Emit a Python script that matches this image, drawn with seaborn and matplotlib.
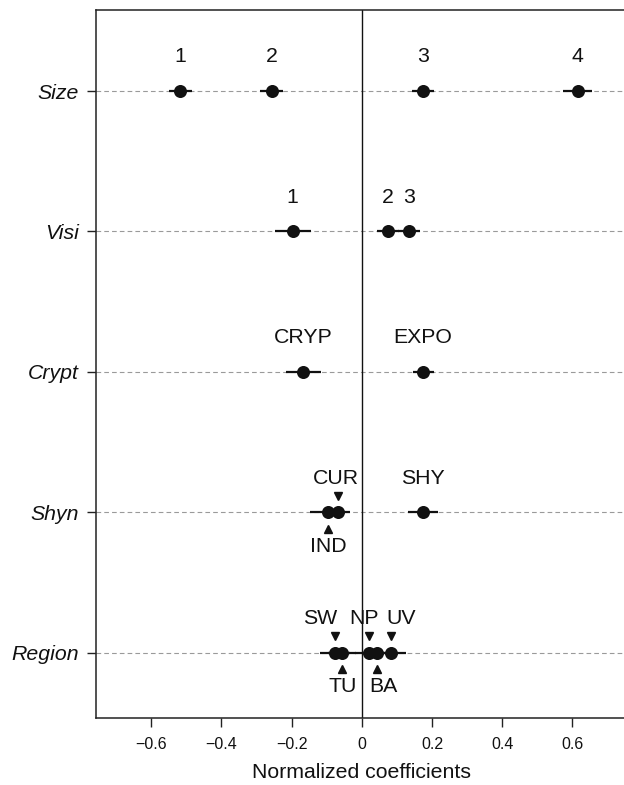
import matplotlib
matplotlib.use("Agg")
import matplotlib.pyplot as plt
import matplotlib.transforms as mtransforms
import numpy as np
import pandas as pd
import seaborn as sns

# Model terms (rows, top to bottom)
variables = ["Size", "Visi", "Crypt", "Shyn", "Region"]

# Levels of each term, normalized coefficients and half-width of the interval
size_levels = ["1", "2", "3", "4"]
size_coef = [-0.517, -0.257, 0.174, 0.615]
size_half = [0.032, 0.032, 0.032, 0.041]

visi_levels = ["1", "2", "3"]
visi_coef = [-0.197, 0.074, 0.135]
visi_half = [0.051, 0.031, 0.031]

crypt_levels = ["CRYP", "EXPO"]
crypt_coef = [-0.166, 0.175]
crypt_half = [0.051, 0.030]

shyn_levels = ["IND", "CUR", "SHY"]
shyn_coef = [-0.097, -0.067, 0.174]
shyn_half = [0.050, 0.033, 0.043]

region_levels = ["SW", "TU", "NP", "BA", "UV"]
region_coef = [-0.076, -0.055, 0.022, 0.044, 0.083]
region_half = [0.043, 0.040, 0.040, 0.040, 0.043]

x_ticks = [-0.6, -0.4, -0.2, 0, 0.2, 0.4, 0.6]
x_tick_labels = ["\u22120.6", "\u22120.4", "\u22120.2", "0", "0.2", "0.4", "0.6"]
x_label = "Normalized coefficients"

# Label placement: side ('above' / 'below'), horizontal nudge in points, pointer arrow
label_style = {
    "CUR": ("above", -2.0, True),
    "IND": ("below", 0.5, True),
    "SW": ("above", -10.8, True),
    "NP": ("above", -3.6, True),
    "UV": ("above", 7.2, True),
    "TU": ("below", 0.5, True),
    "BA": ("below", 4.3, True),
}

groups = [
    (size_levels, size_coef, size_half),
    (visi_levels, visi_coef, visi_half),
    (crypt_levels, crypt_coef, crypt_half),
    (shyn_levels, shyn_coef, shyn_half),
    (region_levels, region_coef, region_half),
]

records = []
for row, (var, (levels, coefs, halves)) in enumerate(zip(variables, groups)):
    for lev, c, h in zip(levels, coefs, halves):
        records.append({"variable": var, "row": row, "level": lev,
                        "coef": c, "lo": c - h, "hi": c + h})
df = pd.DataFrame(records)

sns.set_theme(style="white")
plt.rcParams["font.family"] = ["Liberation Sans", "DejaVu Sans"]

fig = plt.figure(figsize=(6.24, 7.85), dpi=100)
ax = fig.add_axes([95.7 / 624, 67 / 785, (627.8 - 95.7) / 624, (718 - 10) / 785])

xlim = (-0.758, 0.758)
ax.set_xlim(*xlim)
ax.set_ylim(4.466, -0.577)

# dashed reference line through each term
for row in range(len(variables)):
    ax.plot(xlim, [row, row], color="#9a9a9a", lw=0.8,
            dashes=(4.2, 2.8), zorder=1, solid_capstyle="butt")

# zero line
ax.axvline(0, color="#111111", lw=1.0, zorder=2)

# intervals
ax.hlines(df["row"], df["lo"], df["hi"], color="#111111", lw=1.6, zorder=3)

# point estimates
sns.scatterplot(data=df, x="coef", y="row", ax=ax, color="#111111",
                s=88, edgecolor="#111111", linewidth=0, zorder=4, legend=False)

# level labels and pointers
for _, r in df.iterrows():
    side, dx, arrow = label_style.get(r["level"], ("above", 0.0, False))
    sign = 1 if side == "above" else -1
    ax.annotate(r["level"], xy=(r["coef"], r["row"]),
                xytext=(dx, sign * 24.5), textcoords="offset points",
                ha="center", va="center", fontsize=15.3, color="#111111",
                zorder=5)
    if arrow:
        tr = mtransforms.offset_copy(ax.transData, fig=fig, x=0,
                                     y=sign * 12.0, units="points")
        ax.plot([r["coef"]], [r["row"]], transform=tr,
                marker="v" if side == "above" else "^",
                markersize=5.3, color="#111111", linestyle="none", zorder=5)

ax.set_yticks(range(len(variables)))
ax.set_yticklabels(variables, fontsize=15.3, fontstyle="italic", color="#111111")
ax.set_xticks(x_ticks)
ax.set_xticklabels(x_tick_labels, fontsize=11.5, color="#111111")
ax.set_xlabel(x_label, fontsize=15.3, color="#111111", labelpad=8)
ax.set_ylabel("")

ax.tick_params(axis="both", which="major", direction="out", length=6.5,
               width=1.0, color="#222222", bottom=True, left=True)
ax.tick_params(axis="x", pad=7)
ax.tick_params(axis="y", pad=5.5)

for side in ["left", "top", "bottom"]:
    ax.spines[side].set_visible(True)
    ax.spines[side].set_color("#222222")
    ax.spines[side].set_linewidth(1.1)
ax.spines["right"].set_visible(False)

fig.savefig("out.png", dpi=100)
